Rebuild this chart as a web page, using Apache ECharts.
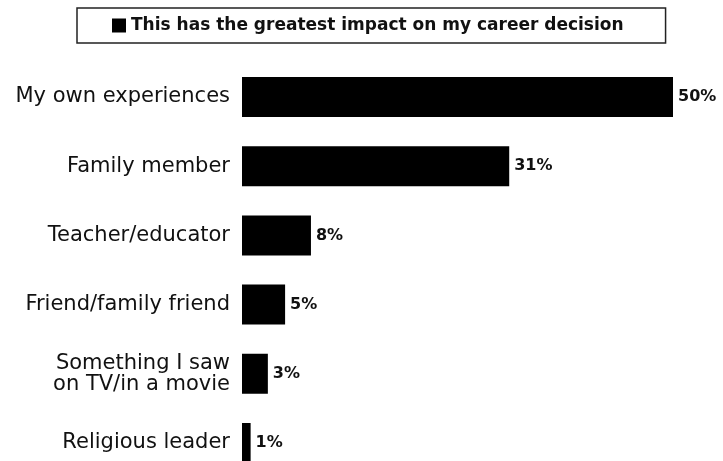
<!DOCTYPE html>
<html>
<head>
<meta charset="utf-8">
<style>
  html, body { margin: 0; padding: 0; background: #fff; }
  #chart { width: 723px; height: 461px; }
</style>
<script src="https://cdn.jsdelivr.net/npm/echarts@6/dist/echarts.min.js"></script>
</head>
<body>
<div id="chart"></div>
<script>
// Influences on career decisions (share of respondents, %)
const categories = [
  'My own experiences',
  'Family member',
  'Teacher/educator',
  'Friend/family friend',
  'Something I saw\non TV/in a movie',
  'Religious leader'
];
const seriesName = 'This has the greatest impact on my career decision';
const values = [50, 31, 8, 5, 3, 1];

const chart = echarts.init(document.getElementById('chart'), null, { renderer: 'canvas' });

chart.setOption({
  backgroundColor: '#ffffff',
  animation: false,
  legend: {
    data: [seriesName],
    left: 77,
    top: 8,
    padding: [9, 42, 9, 35],
    itemWidth: 14,
    itemHeight: 14,
    itemGap: 0,
    icon: 'rect',
    borderColor: '#222',
    borderWidth: 1.5,
    borderRadius: 0,
    textStyle: {
      fontFamily: 'DejaVu Sans',
      fontSize: 17,
      fontWeight: 'bold',
      color: '#111'
    }
  },
  grid: {
    left: 242,
    right: 50,
    top: 62.4,
    height: 415.2,
    outerBoundsMode: 'none',
    containLabel: false
  },
  xAxis: {
    type: 'value',
    min: 0,
    max: 50,
    show: false
  },
  yAxis: {
    type: 'category',
    data: categories,
    inverse: true,
    axisLine: { show: false },
    axisTick: { show: false },
    splitLine: { show: false },
    axisLabel: {
      margin: 12,
      fontFamily: 'DejaVu Sans',
      fontSize: 21,
      color: '#111',
      lineHeight: 21,
      align: 'right'
    }
  },
  series: [{
    name: seriesName,
    type: 'bar',
    data: values,
    barWidth: 40,
    itemStyle: { color: '#000' },
    label: {
      show: true,
      position: 'right',
      distance: 5,
      formatter: '{c}%',
      fontFamily: 'DejaVu Sans',
      fontSize: 16,
      fontWeight: 'bold',
      color: '#111'
    }
  }]
});
</script>
</body>
</html>
